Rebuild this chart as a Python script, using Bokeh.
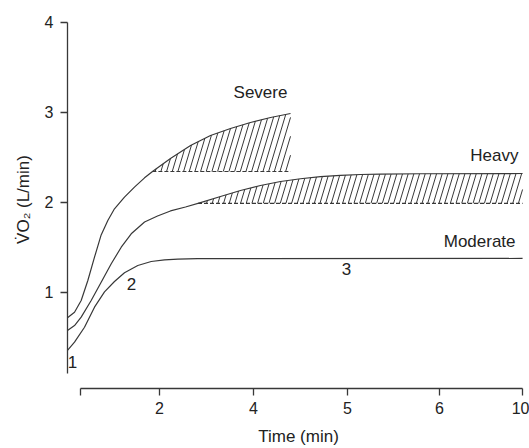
import numpy as np
from bokeh.plotting import figure
from bokeh.models import FixedTicker, Range1d
from bokeh.core.properties import value
from bokeh.embed import file_html
from bokeh.resources import INLINE

# ---- data (schematic time axis units, VO2 in L/min) ----
tick_pos = [0.144, 1.022, 2.067, 3.111, 4.133, 5.056]
tick_labels = ["", "2", "4", "5", "6", "10"]

severe_t = [0.0, 0.078, 0.152, 0.226, 0.300, 0.374, 0.448, 0.522, 0.633, 0.744,
            0.856, 0.948, 1.144, 1.367, 1.589, 1.811, 2.033, 2.256, 2.478]
severe_v = [0.719, 0.781, 0.911, 1.133, 1.392, 1.640, 1.800, 1.930, 2.059, 2.170,
            2.274, 2.348, 2.489, 2.633, 2.744, 2.822, 2.889, 2.944, 2.989]

heavy_t = [0.0, 0.078, 0.152, 0.263, 0.374, 0.486, 0.597, 0.708, 0.856, 1.0,
           1.144, 1.311, 1.478, 1.70, 1.922, 2.144, 2.367, 2.589, 2.811, 3.033,
           3.256, 3.478, 3.922, 5.056]
heavy_v = [0.578, 0.633, 0.726, 0.911, 1.114, 1.319, 1.503, 1.652, 1.783, 1.850,
           1.906, 1.950, 1.998, 2.067, 2.133, 2.189, 2.233, 2.264, 2.287, 2.302,
           2.311, 2.314, 2.319, 2.322]

moderate_t = [0.0, 0.078, 0.189, 0.300, 0.411, 0.522, 0.633, 0.781, 0.930, 1.078,
              1.226, 1.444, 5.056]
moderate_v = [0.356, 0.448, 0.614, 0.837, 1.006, 1.122, 1.220, 1.300, 1.344, 1.363,
              1.370, 1.376, 1.378]

severe_base = 2.344
heavy_base = 1.99

y_ticks = [1, 2, 3, 4]

INK = "#383838"
TXT = "#222222"
FONT = "Liberation Sans"

p = figure(width=529, height=448, output_backend="svg", toolbar_location=None,
           x_range=Range1d(0, 5.133), y_range=Range1d(-0.0667, 4.133),
           min_border_left=67, min_border_right=0, min_border_top=10,
           min_border_bottom=60)
p.outline_line_color = None
p.grid.visible = False
p.background_fill_color = "white"
p.border_fill_color = "white"

# axes
for ax in (p.xaxis[0], p.yaxis[0]):
    ax.axis_line_color = INK
    ax.axis_line_width = 1.3
    ax.major_tick_line_color = INK
    ax.major_tick_line_width = 1.3
    ax.major_tick_in = 0
    ax.major_tick_out = 7
    ax.minor_tick_line_color = None
    ax.major_label_text_font = FONT
    ax.major_label_text_font_size = "16px"
    ax.major_label_text_color = TXT
    ax.axis_label_text_font = FONT
    ax.axis_label_text_font_size = "17px"
    ax.axis_label_text_font_style = "normal"
    ax.axis_label_text_color = TXT

p.xaxis.ticker = FixedTicker(ticks=tick_pos)
p.xaxis.major_label_overrides = {t: l for t, l in zip(tick_pos, tick_labels)}
p.xaxis.bounds = (tick_pos[0], tick_pos[-1])
p.xaxis.axis_label = "Time (min)"
p.xaxis.major_label_standoff = 6
p.xaxis.axis_label_standoff = 10

p.yaxis.ticker = FixedTicker(ticks=y_ticks)
p.yaxis.bounds = (0.1, 4)
p.yaxis.axis_label = "V\u0307O\u2082 (L/min)"
p.yaxis.major_label_standoff = 7
p.yaxis.axis_label_standoff = 9


def hatch_segments(xs, ys, base, x_end, step=0.063, k=0.3):
    xs = np.asarray(xs, float)
    ys = np.asarray(ys, float)
    x_start = float(np.interp(base, ys, xs))
    x0s, y0s, x1s, y1s = [], [], [], []
    tt = np.linspace(0, ys.max() - base + 0.05, 3000)
    for x0 in np.arange(x_start + step * 0.5, x_end, step):
        xl = x0 + k * tt
        g = base + tt - np.interp(xl, xs, ys)
        idx = np.argmax(g >= 0) if np.any(g >= 0) else len(tt) - 1
        t_hit = tt[idx]
        if x0 + k * t_hit > x_end:
            t_hit = (x_end - x0) / k
        x0s.append(x0); y0s.append(base)
        x1s.append(x0 + k * t_hit); y1s.append(base + t_hit)
    return x_start, x0s, y0s, x1s, y1s


# severe hatch
s_start, a, b, c, d = hatch_segments(severe_t, severe_v, severe_base, severe_t[-1])
p.segment(a, b, c, d, line_color=INK, line_width=1)
p.line([s_start, severe_t[-1]], [severe_base, severe_base], line_color=INK,
       line_width=1.2, line_dash="4 2")

# heavy hatch
h_start, a, b, c, d = hatch_segments(heavy_t, heavy_v, heavy_base, heavy_t[-1])
p.segment(a, b, c, d, line_color=INK, line_width=1)
p.line([h_start, heavy_t[-1]], [heavy_base, heavy_base], line_color=INK,
       line_width=1.2, line_dash="4 2")

# curves
for xs, ys in ((severe_t, severe_v), (heavy_t, heavy_v), (moderate_t, moderate_v)):
    p.line(xs, ys, line_color=INK, line_width=1.2, line_join="round")

# labels
def label(x, y, txt, align="center"):
    p.text(x=[x], y=[y], text=[txt], text_font=value(FONT), text_font_size="17px",
           text_color=TXT, text_align=align, text_baseline="middle")

label(2.144, 3.222, "Severe")
label(5.011, 2.522, "Heavy", "right")
label(4.978, 1.561, "Moderate", "right")
label(0.056, 0.233, "1")
label(0.711, 1.089, "2")
label(3.10, 1.256, "3")

open("out.html", "w").write(file_html(p, INLINE))
